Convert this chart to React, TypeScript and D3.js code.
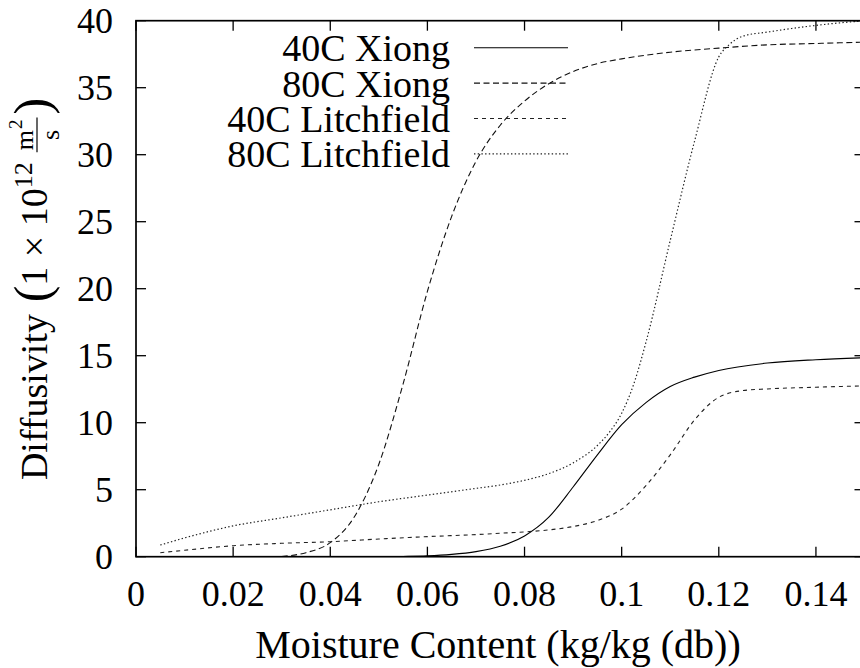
import React from "react";
import * as d3 from "d3";

// ---- data ----
const xiong40X = [0.05, 0.055, 0.06, 0.065, 0.07, 0.075, 0.08, 0.085, 0.09, 0.095, 0.1, 0.105, 0.11, 0.115, 0.12, 0.13, 0.14, 0.15];
const xiong40Y = [0.0, 0.02, 0.06, 0.17, 0.38, 0.78, 1.55, 2.95, 5.2, 7.6, 9.85, 11.5, 12.7, 13.4, 13.9, 14.45, 14.7, 14.85];

const xiong80X = [0.03, 0.035, 0.04, 0.045, 0.05, 0.055, 0.06, 0.065, 0.07, 0.075, 0.08, 0.085, 0.09, 0.095, 0.1, 0.11, 0.12, 0.13, 0.14, 0.15];
const xiong80Y = [0.02, 0.3, 1.05, 3.0, 6.9, 12.9, 19.8, 25.4, 29.5, 32.2, 34.0, 35.3, 36.2, 36.8, 37.15, 37.65, 37.95, 38.2, 38.3, 38.4];

const litch40X = [0.005, 0.01, 0.02, 0.03, 0.04, 0.05, 0.06, 0.07, 0.075, 0.08, 0.085, 0.09, 0.095, 0.1, 0.105, 0.11, 0.115, 0.12, 0.125, 0.13, 0.14, 0.15];
const litch40Y = [0.3, 0.48, 0.82, 1.0, 1.12, 1.32, 1.5, 1.65, 1.75, 1.85, 2.0, 2.25, 2.7, 3.55, 5.3, 7.6, 10.2, 11.9, 12.4, 12.52, 12.65, 12.75];

const litch80X = [0.005, 0.01, 0.02, 0.03, 0.04, 0.05, 0.06, 0.07, 0.075, 0.08, 0.085, 0.09, 0.095, 0.0975, 0.1, 0.1025, 0.105, 0.11, 0.115, 0.12, 0.1221, 0.125, 0.13, 0.14, 0.15];
const litch80Y = [0.87, 1.4, 2.3, 2.9, 3.5, 4.1, 4.6, 5.1, 5.35, 5.7, 6.2, 7.0, 8.3, 9.3, 10.7, 12.9, 16.0, 23.6, 31.0, 37.3, 38.2, 38.85, 39.15, 39.65, 40.0];

const seriesNames = ["40C Xiong", "80C Xiong", "40C Litchfield", "80C Litchfield"];
const xTicks = [0, 0.02, 0.04, 0.06, 0.08, 0.1, 0.12, 0.14];
const xTickLabels = ["0", "0.02", "0.04", "0.06", "0.08", "0.1", "0.12", "0.14"];
const yTicks = [0, 5, 10, 15, 20, 25, 30, 35, 40];

const FONT = "Liberation Serif";
const fs = (size: number): React.CSSProperties => ({ fontFamily: FONT, fontSize: `${size}px` });

const x = d3.scaleLinear().domain([0, 0.15]).range([136, 864.5]);
const y = d3.scaleLinear().domain([0, 40]).range([556.7, 20.7]);

const series = [
  { name: seriesNames[0], xs: xiong40X, ys: xiong40Y, dash: undefined, color: "#000", w: 1.1 },
  { name: seriesNames[1], xs: xiong80X, ys: xiong80Y, dash: "6,3.5", color: "#111", w: 1.1 },
  { name: seriesNames[2], xs: litch40X, ys: litch40Y, dash: "4,4", color: "#222", w: 1.1 },
  { name: seriesNames[3], xs: litch80X, ys: litch80Y, dash: "1.4,2.3", color: "#222", w: 1.2 },
];

const lineGen = d3.line<[number, number]>()
  .x(d => x(d[0]))
  .y(d => y(d[1]))
  .curve(d3.curveMonotoneX);

// approximate Liberation Serif (Times) advance widths, in em
const ADV: Record<string, number> = {
  D: 0.722, i: 0.278, f: 0.333, u: 0.5, s: 0.389, v: 0.5, t: 0.278, y: 0.5,
  "1": 0.5, "0": 0.5, "2": 0.5, " ": 0.25, "×": 0.564, m: 0.778, "(": 0.333, ")": 0.333,
};
const textW = (str: string, size: number) =>
  str.split("").reduce((a, c) => a + (ADV[c] ?? 0.5), 0) * size;

function YLabel() {
  const wA = textW("Diffusivity", 38);
  const wP = textW("(", 50);
  const wB = textW("1 × 10", 38);
  const wC = textW("12", 26);
  const wM = textW("m", 26);
  const wTwo = textW("2", 19);
  const wS = textW("s", 26);
  const wCP = textW(")", 50);

  const xP = wA + 11;
  const xB = xP + wP;
  const xC = xB + wB;
  const fracStart = xC + wC + 10;
  const numW = wM + wTwo + 1;
  const fracW = Math.max(numW, wS) + 4;
  const xM = fracStart + (fracW - numW) / 2;
  const xS = fracStart + (fracW - wS) / 2;
  const xCP = fracStart + fracW + 3;
  const total = xCP + wCP;

  return (
    <g transform="translate(47,289) rotate(-90)" fill="#000">
      <g transform={`translate(${-total / 2},0)`}>
        <text x={0} y={0} style={fs(38)}>Diffusivity</text>
        <text x={xP} y={2} style={fs(50)}>(</text>
        <text x={xB} y={0} style={fs(38)}>1 × 10</text>
        <text x={xC} y={-15} style={fs(26)}>12</text>
        <text x={xM} y={-14} style={fs(26)}>m</text>
        <text x={xM + wM + 1} y={-25} style={fs(19)}>2</text>
        <line x1={fracStart} x2={fracStart + fracW} y1={-10} y2={-10} stroke="#000" strokeWidth={1.2} />
        <text x={xS} y={12} style={fs(26)}>s</text>
        <text x={xCP} y={2} style={fs(50)}>)</text>
      </g>
    </g>
  );
}

export default function App() {
  const [x0, x1] = x.range();
  const [y0, y1] = y.range();

  return (
    <svg
      width={860}
      height={668}
      style={{ position: "absolute", left: 0, top: 0, display: "block", background: "#fff", fontFamily: FONT }}
    >
      <defs>
        <clipPath id="plotclip">
          <rect x={x0} y={y1} width={x1 - x0} height={y0 - y1} />
        </clipPath>
      </defs>
      <rect width={860} height={668} fill="#fff" />

      <g clipPath="url(#plotclip)">
        {series.map(s => {
          const pts: [number, number][] = s.xs.map((v, i) => [v, s.ys[i]]);
          return (
            <path
              key={s.name}
              d={lineGen(pts) as string}
              fill="none"
              stroke={s.color}
              strokeWidth={s.w}
              strokeDasharray={s.dash}
              strokeLinejoin="round"
            />
          );
        })}
      </g>

      <g stroke="#000" strokeWidth={1.3}>
        {xTicks.map(t => (
          <g key={"xt" + t}>
            <line x1={x(t)} x2={x(t)} y1={y0} y2={y0 - 10} />
            <line x1={x(t)} x2={x(t)} y1={y1} y2={y1 + 10} />
          </g>
        ))}
        {yTicks.map(t => (
          <g key={"yt" + t}>
            <line x1={x0} x2={x0 + 10} y1={y(t)} y2={y(t)} />
            <line x1={x1} x2={x1 - 10} y1={y(t)} y2={y(t)} />
          </g>
        ))}
      </g>

      <rect x={x0} y={y1} width={x1 - x0} height={y0 - y1} fill="none" stroke="#000" strokeWidth={1.7} />

      {xTicks.map((t, i) => (
        <text key={"xl" + t} x={x(t)} y={606} textAnchor="middle" style={fs(36)} fill="#000">
          {xTickLabels[i]}
        </text>
      ))}
      {yTicks.map(t => (
        <text key={"yl" + t} x={113} y={y(t) + 12} textAnchor="end" style={fs(36)} fill="#000">
          {String(t)}
        </text>
      ))}

      <text x={498} y={658} textAnchor="middle" style={fs(40)} fill="#000">
        Moisture Content (kg/kg (db))
      </text>

      {series.map((s, i) => {
        const ry = 47.7 + i * 35.4;
        return (
          <g key={"lg" + s.name}>
            <text x={450} y={ry + 13.5} textAnchor="end" style={fs(38)} fill="#000">
              {s.name}
            </text>
            <line x1={474} x2={568} y1={ry} y2={ry} stroke={s.color} strokeWidth={s.w} strokeDasharray={s.dash} />
          </g>
        );
      })}

      <YLabel />
    </svg>
  );
}
